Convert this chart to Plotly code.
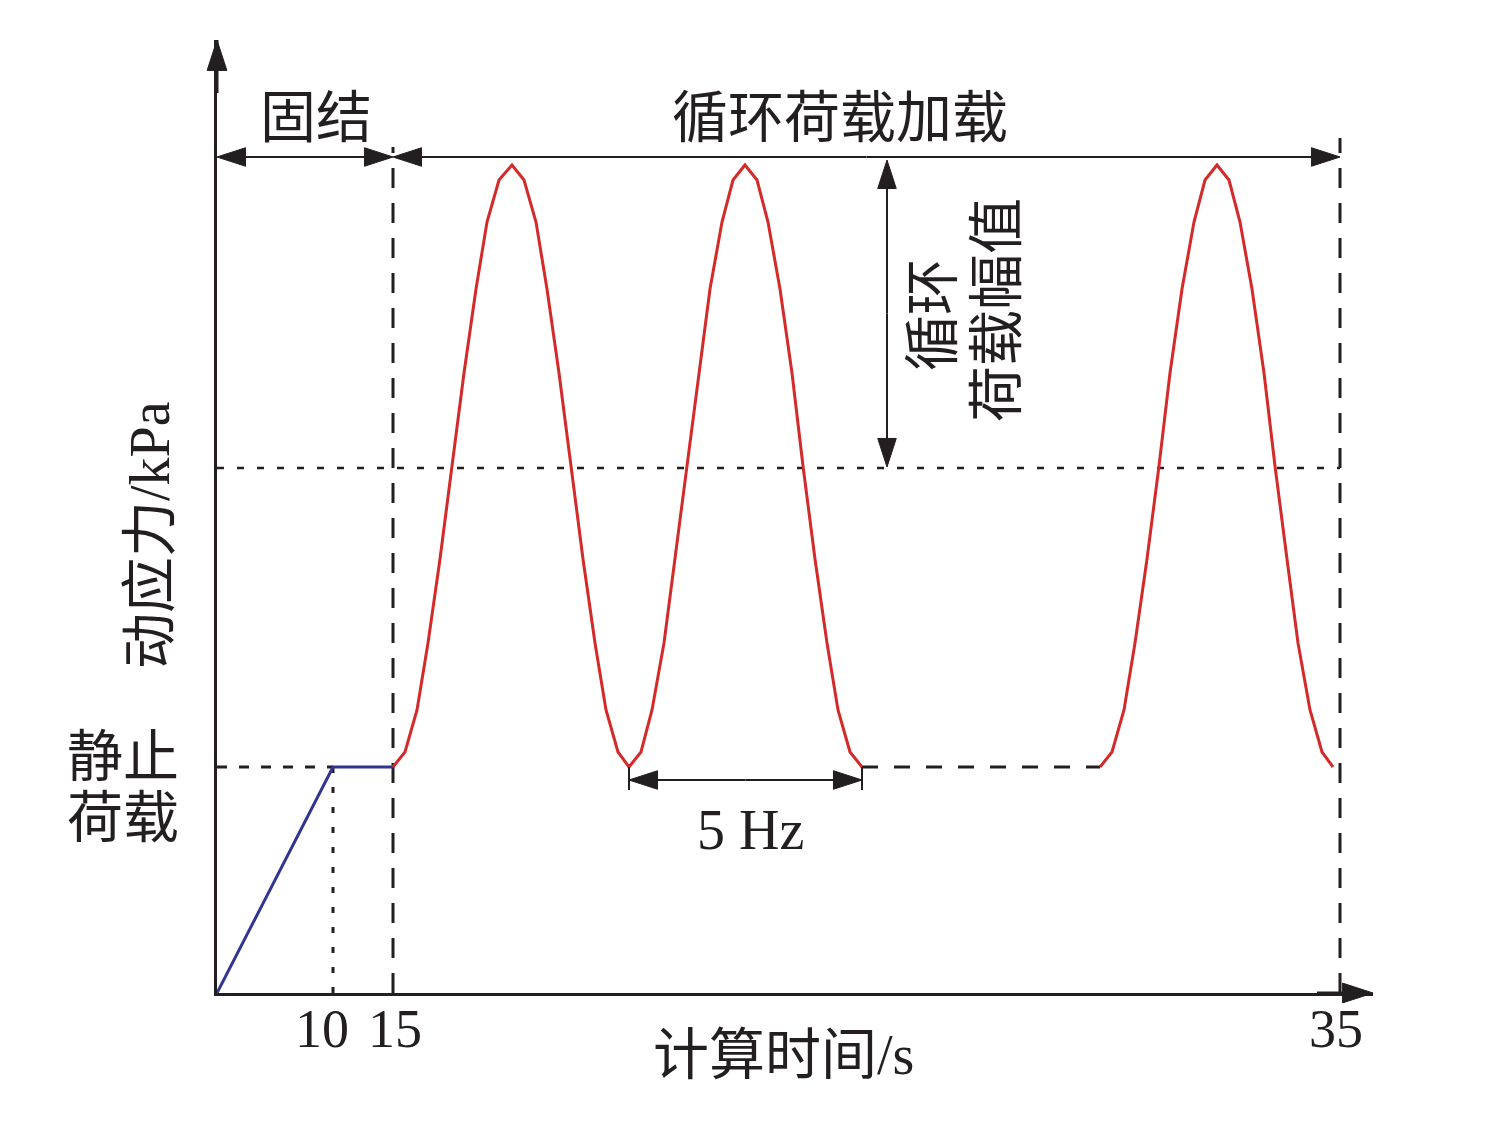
import plotly.graph_objects as go

# figure geometry (pixels): origin of the axes and the arrow tips
W, H = 1492, 1133
L, B, R, T = 217, 993, 1373, 40
PAGE = 8  # default body margin of the html page

# schematic positions of the time labels (distance from origin) and their text
tick_pos = [105, 178, 1119]
tick_text = ["10", "15", "35"]

# stress levels (distance above origin)
static_level = 226
mean_level = 525

# static loading ramp (blue)
ramp_x = [0, 116, 176]
ramp_y = [0, 226, 226]

# first two load cycles (red)
cyc1_x = [176, 188, 200, 211, 223, 235, 247, 259, 270, 282, 295,
          307, 319, 330, 342, 354, 366, 378, 389, 401, 412,
          424, 435, 447, 458, 470, 482, 493, 505, 516, 528,
          540, 551, 563, 575, 586, 598, 610, 621, 633, 645]
cyc1_y = [226, 241, 283, 350, 434, 527, 620, 704, 771, 813, 828,
          813, 771, 704, 620, 527, 434, 350, 283, 241, 226,
          241, 283, 350, 434, 527, 620, 704, 771, 813, 828,
          813, 771, 704, 620, 527, 434, 350, 283, 241, 226]

# last load cycle (red)
cyc2_x = [883, 895, 907, 918, 930, 942, 953, 965, 977, 988, 1000,
          1012, 1023, 1035, 1047, 1058, 1070, 1081, 1093, 1105, 1116]
cyc2_y = [226, 241, 283, 350, 434, 527, 620, 704, 771, 813, 828,
          813, 771, 704, 620, 527, 434, 350, 283, 241, 226]

# omitted cycles (black dashed)
gap_x = [645, 883]
gap_y = [226, 226]

FONT = "Liberation Serif, Noto Sans CJK SC"
BLACK = "#231f20"
RED = "#d42a2a"
BLUE = "#2f3590"


def px(xp):
    return (xp - L) / (R - L)


def py(yp):
    return (B - yp) / (B - T)


fig = go.Figure()


def add_line(x, y, color=BLACK, width=3, dash="solid"):
    fig.add_trace(go.Scatter(x=x, y=y, mode="lines",
                             line=dict(color=color, width=width, dash=dash),
                             hoverinfo="skip", showlegend=False))


def add_arrow(x, y, width=2, size=30):
    # line from the first point to the second, arrowhead on the second
    fig.add_trace(go.Scatter(x=x, y=y, mode="lines+markers",
                             line=dict(color=BLACK, width=width),
                             marker=dict(symbol="arrow", size=[0, size], color=BLACK,
                                         angleref="previous", opacity=1,
                                         line=dict(width=1, color=BLACK)),
                             cliponaxis=False, hoverinfo="skip", showlegend=False))


def add_double_arrow(a, b, fixed, vertical=False):
    mid = (a + b) / 2
    for end in (a, b):
        if vertical:
            add_arrow([fixed, fixed], [mid, end])
        else:
            add_arrow([mid, end], [fixed, fixed])


# guide lines
add_line([0, 116], [static_level, static_level], dash="10px,12px")
add_line([116, 116], [0, static_level], dash="6px,14px")
add_line([0, 1123], [mean_level, mean_level], width=2.5, dash="7px,13px")
add_line([176, 176], [0, 846], dash="20px,15px")
add_line([1123, 1123], [0, 855], dash="20px,15px")
add_line(gap_x, gap_y, dash="16px,16px")

# loading curves
add_line(ramp_x, ramp_y, color=BLUE, width=3)
add_line(cyc1_x, cyc1_y, color=RED, width=3)
add_line(cyc2_x, cyc2_y, color=RED, width=3)

# dimension arrows
add_double_arrow(0, 176, 836)
add_double_arrow(176, 1123, 836)
add_double_arrow(833, 526, 670, vertical=True)
add_double_arrow(412, 645, 213)
add_line([412, 412], [203, 226], width=2)
add_line([645, 645], [203, 226], width=2)

# axis arrowheads
add_arrow([1100, 1156], [0, 0], width=3, size=32)
add_arrow([0, 0], [900, 953], width=3, size=32)

texts = [
    ("固结", 316, 118, 0),
    ("循环荷载加载", 840, 118, 0),
    ("循环", 933, 315, -90),
    ("荷载幅值", 997, 310, -90),
    ("5 Hz", 750, 830, 0),
    ("动应力/kPa", 150, 535, -90),
    ("静止", 123, 757, 0),
    ("荷载", 123, 818, 0),
    ("计算时间/s", 783, 1055, 0),
]
for t, xp, yp, ang in texts:
    fig.add_annotation(text=t, x=px(xp), y=py(yp), xref="paper", yref="paper",
                       xanchor="center", yanchor="middle", showarrow=False,
                       textangle=ang, font=dict(family=FONT, size=56, color=BLACK))

fig.update_xaxes(range=[0, R - L], showgrid=False, zeroline=False,
                 showline=True, linecolor=BLACK, linewidth=3,
                 tickmode="array", tickvals=tick_pos, ticktext=tick_text, ticks="",
                 ticklabelstandoff=-14,
                 tickfont=dict(family=FONT, size=54, color=BLACK))
fig.update_yaxes(range=[0, B - T], showgrid=False, zeroline=False,
                 showline=True, linecolor=BLACK, linewidth=3, showticklabels=False, ticks="")

fig.update_layout(width=W - 2 * PAGE, height=H - 2 * PAGE,
                  margin=dict(l=L - PAGE, r=W - R - PAGE, t=T - PAGE, b=H - B - PAGE),
                  plot_bgcolor="white", paper_bgcolor="white",
                  font=dict(family=FONT, color=BLACK))

fig.write_html("out.html")
